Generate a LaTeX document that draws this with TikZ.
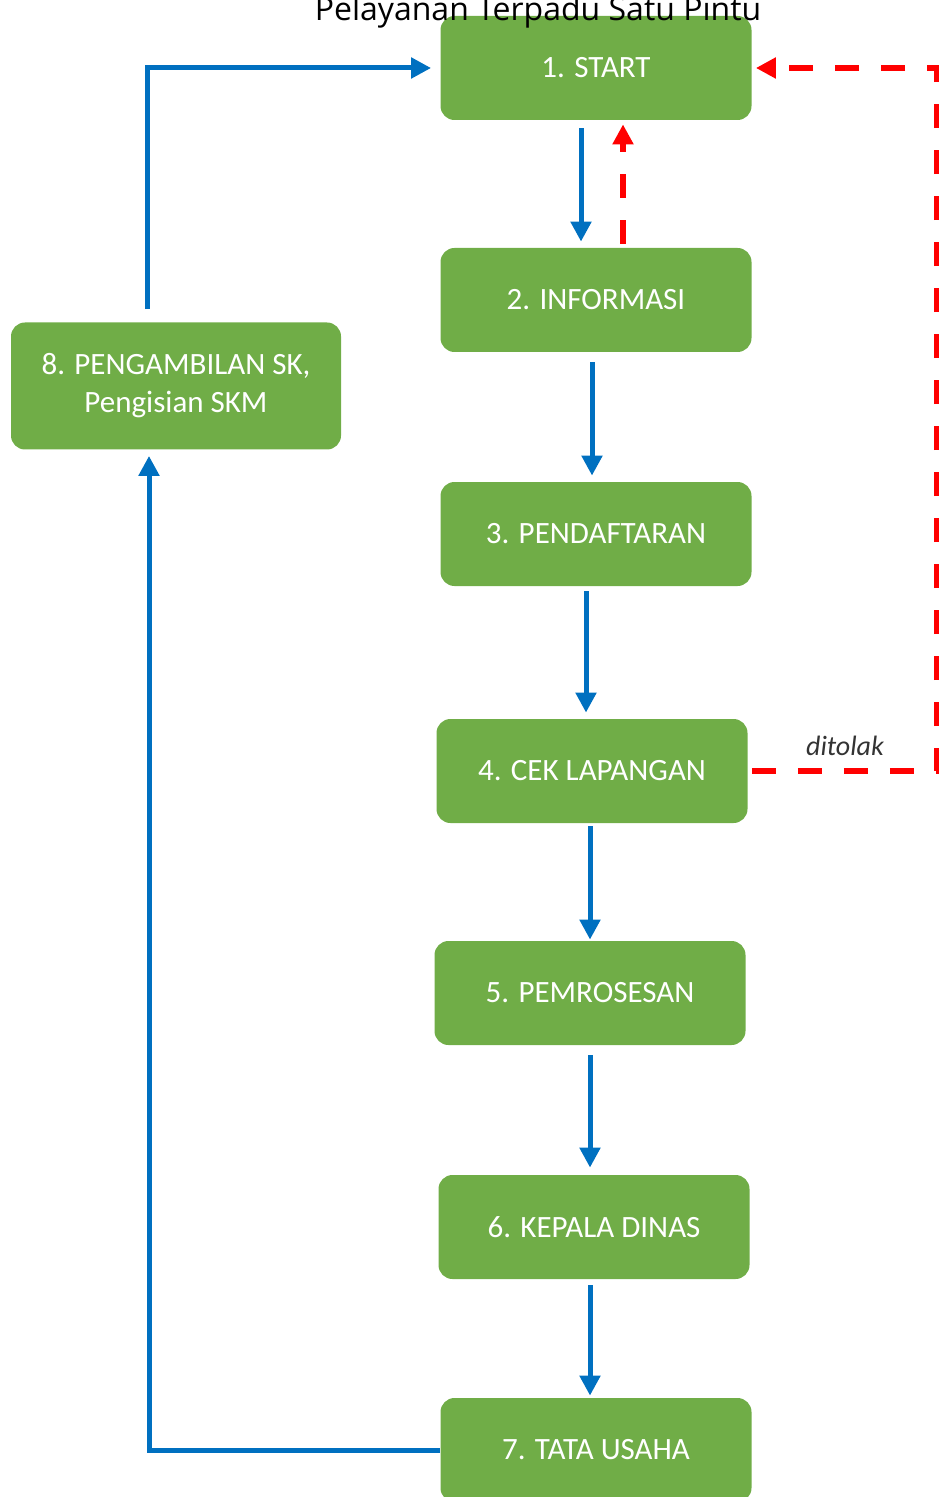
\documentclass[tikz,border=0pt]{standalone}
\usepackage{fontspec}
\setmainfont{Carlito}
\newfontfamily\judulfont{Open Sans}
\usetikzlibrary{arrows,
                arrows.meta,
                positioning}
\definecolor{hijau}{HTML}{70AD47}
\definecolor{biru}{HTML}{0070C0}
\definecolor{merah}{HTML}{FF0000}

\begin{document}
\begin{tikzpicture}[x=0.5pt,y=-0.5pt,
    langkah/.style={fill=hijau,rounded corners=7pt,minimum width=155.5pt,minimum height=52pt,
                    text=white,font=\fontsize{15.5}{19}\selectfont,align=center,inner sep=0pt},
    alur/.style={draw=biru,line width=2.5pt,-{Triangle[length=10pt,width=10pt]}},
    tolak/.style={draw=merah,line width=3pt,dash pattern=on 12pt off 11pt,-{Triangle[length=10pt,width=10pt]}}]
   \useasboundingbox (0,0) rectangle (938,1497);
   \node [langkah] (start) at (596,68) {1. START};
   \node [langkah] (info) at (596,300) {2. INFORMASI};
   \node [langkah] (daftar) at (596,534) {3. PENDAFTARAN};
   \node [langkah] (cek) at (592,771) {4. CEK LAPANGAN};
   \node [langkah] (proses) at (590,993) {5. PEMROSESAN};
   \node [langkah] (kadis) at (594,1227) {6. KEPALA DINAS};
   \node [langkah] (tu) at (596,1450) {7. TATA USAHA};
   \node [langkah,minimum width=165pt,minimum height=63.5pt] (ambil) at (176,386) {8. PENGAMBILAN SK,\\Pengisian SKM};
   \coordinate (kanan) at (937,0);
   % alur utama
   \draw [alur,shorten <=4pt,shorten >=3pt] ([xshift=-7.5pt]start.south) -- ([xshift=-7.5pt]start.south |- info.north);
   \draw [alur,shorten <=5pt,shorten >=3pt] ([xshift=-2pt]info.south) -- ([xshift=-2pt]info.south |- daftar.north);
   \draw [alur,shorten <=2.5pt,shorten >=3pt] ([xshift=-5pt]daftar.south) -- ([xshift=-5pt]daftar.south |- cek.north);
   \draw [alur,shorten <=1.5pt,shorten >=0.5pt] ([xshift=-1pt]cek.south) -- ([xshift=-1pt]cek.south |- proses.north);
   \draw [alur,shorten <=5pt,shorten >=3.5pt] (proses.south) -- (proses.south |- kadis.north);
   \draw [alur,shorten <=3pt,shorten >=1pt] ([xshift=-2pt]kadis.south) -- ([xshift=-2pt]kadis.south |- tu.north);
   \draw [alur,shorten >=3pt] (tu.west) -| ([xshift=-13.5pt]ambil.south);
   \draw [alur,shorten >=4.5pt] ([xshift=-14.5pt,yshift=6.5pt]ambil.north) |- (start.west);
   % ditolak
   \draw [tolak,shorten <=2pt,shorten >=2pt] ([xshift=13.5pt]info.north) -- ([xshift=13.5pt]info.north |- start.south);
   \draw [tolak,shorten <=2pt,shorten >=2pt] (cek.east) -- (cek.east -| kanan) |- (start.east);
   \node [font=\itshape\fontsize{14}{16}\selectfont,text=black!80] (ket) at (845,746) {ditolak};
   % judul di atas kotak
   \node [font=\judulfont\fontsize{16}{18}\selectfont,anchor=base] (judul) at (538,21) {Pelayanan Terpadu Satu Pintu};
\end{tikzpicture}
\end{document}
